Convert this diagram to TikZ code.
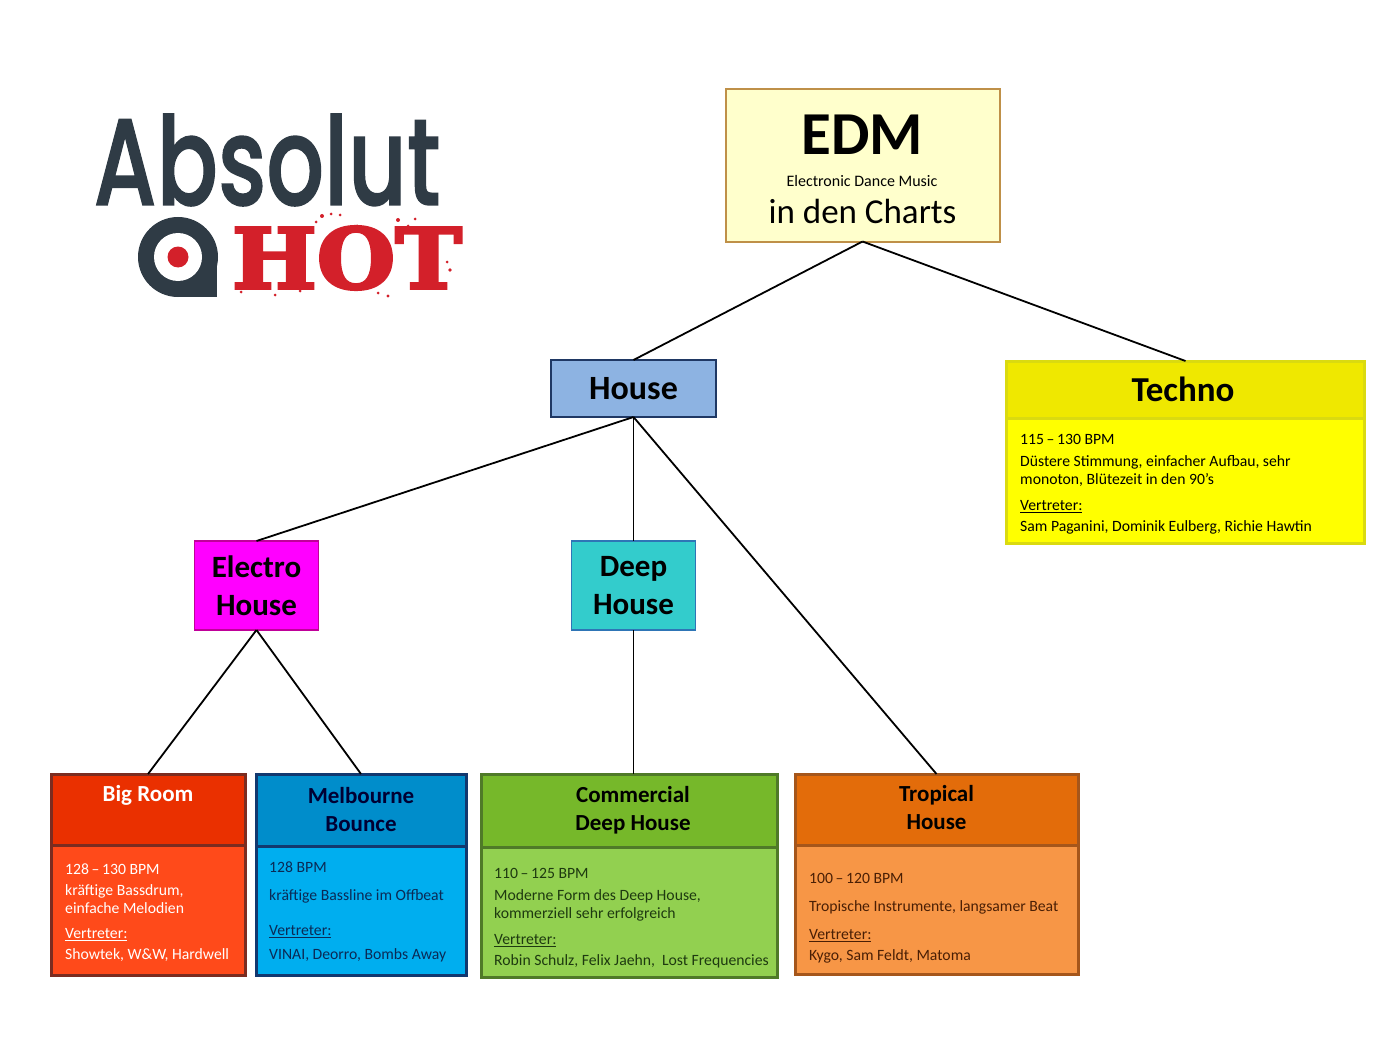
\documentclass[tikz,border=0pt]{standalone}
\usepackage{fontspec}
\setmainfont{Carlito}
\newfontfamily\logofont[FakeBold=1.2]{Poppins Medium}
\newfontfamily\hotfont[FakeBold=3.5]{DejaVu Serif}
\usetikzlibrary{positioning}
\definecolor{logodark}{HTML}{2F3B45}
\definecolor{logored}{HTML}{D3202A}
\newcommand{\vertreter}{\underline{Vertreter:}}
\tikzset{
head/.style={draw,rectangle,outer sep=0pt,inner sep=0pt,align=center,font=\fontsize{34}{37.5}\bfseries\selectfont,text=black},
sub/.style={head,line width=3pt,font=\fontsize{23}{28}\bfseries\selectfont},
info/.style={draw,rectangle,outer sep=0pt,inner sep=0pt,line width=3pt},
infotext/.style={anchor=north west,inner sep=0pt,align=left,font=\fontsize{15.7}{18}\selectfont},
link/.style={line width=1.8pt}
}

\begin{document}
\begin{tikzpicture}[x=1pt,y=-1pt]
	\useasboundingbox (0,0) rectangle (1400,1051);
	% logo
	\node[inner sep=0pt,text=logodark] (absolut) at (267,160) {\resizebox{347pt}{91pt}{\logofont Absolut}};
	\fill[logodark] (178,257) circle (40);
	\fill[logodark] (178,257) rectangle (217,297);
	\fill[white] (178,257) circle (24);
	\fill[logored] (178,257) circle (10.5);
	\node[inner sep=0pt,text=logored] (hot) at (347,258) {\resizebox{230pt}{62pt}{\hotfont\bfseries HOT}};
	\foreach \x/\y/\r in {322/216/2,331/214/1.5,340/215/1.5,316/222/1.5,398/220/2,408/226/1.5,415/219/1.5,450/270/1.8,447/262/1.5,378/293/1.5,300/291/1.5,275/295/1.5,241/292/1.5,357/226/1.5,388/296/1.6}
		\fill[logored] (\x,\y) circle (\r);
	% top
	\definecolor{edmline}{HTML}{BF9048}\definecolor{edmfill}{HTML}{FFFFCC}
	\node[draw=edmline,line width=2pt,fill=edmfill,outer sep=0pt,inner sep=0pt,minimum width=274pt,minimum height=152pt] (edm) at (862.5,165.5) {};
	\node[font=\fontsize{61}{61}\bfseries\selectfont] (edmtitle) at (862,135) {EDM};
	\node[font=\fontsize{16}{18}\selectfont] (edmsub) at (862,181) {Electronic Dance Music};
	\node[font=\fontsize{35}{35}\selectfont] (edmcharts) at (862.5,211) {in den Charts};
	\definecolor{housefill}{HTML}{8DB3E2}\definecolor{houseline}{HTML}{1F3864}
	\node[head,line width=1.8pt,draw=houseline,fill=housefill,minimum width=165pt,minimum height=57pt] (house) at (633.5,388.5) {House};
	% techno
	\definecolor{technoline}{HTML}{DADA10}\definecolor{technohead}{HTML}{EFE800}\definecolor{technofill}{HTML}{FFFF00}
	\node[info,draw=technoline,fill=technofill,minimum width=358pt,minimum height=125pt] (technobody) at (1185.5,480.5) {};
	\node[head,line width=3pt,draw=technoline,fill=technohead,minimum width=358pt,minimum height=57pt,font=\fontsize{35}{37.5}\bfseries\selectfont] (techno) at (1185.5,389.5) {\hspace*{-5pt}Techno};
	\node[infotext] (technotext) at (1020,434.5) {115\,--\,130 BPM\\[4pt]D\"ustere Stimmung, einfacher Aufbau, sehr\\monoton, Bl\"utezeit in den 90's\\[8pt]\vertreter\\[3pt]Sam Paganini, Dominik Eulberg, Richie Hawtin};
	% middle
	\definecolor{electrofill}{HTML}{FF00FF}\definecolor{electroline}{HTML}{C0009A}
	\node[head,line width=1.8pt,draw=electroline,fill=electrofill,minimum width=124pt,minimum height=89pt,font=\fontsize{31}{37.5}\bfseries\selectfont] (electro) at (256.5,585.5) {Electro\\House};
	\definecolor{deepfill}{HTML}{33CCCC}\definecolor{deepline}{HTML}{2E75B6}
	\node[head,line width=1.8pt,draw=deepline,fill=deepfill,minimum width=124pt,minimum height=89pt,font=\fontsize{31}{37.5}\bfseries\selectfont] (deep) at (633.5,585.5) {Deep\\House};
	% bottom
	\definecolor{bigline}{HTML}{7B2C20}\definecolor{bighead}{HTML}{EA3000}\definecolor{bigfill}{HTML}{FF4A1A}
	\node[info,draw=bigline,fill=bigfill,minimum width=194pt,minimum height=130pt] (bigbody) at (148,910) {};
	\node[sub,draw=bigline,fill=bighead,text=white,minimum width=194pt,minimum height=71pt,text depth=5pt] (big) at (148,809.5) {Big Room\\\mbox{}};
	\node[infotext,text=white] (bigtext) at (65,864) {128\,--\,130 BPM\\[3pt]kr\"aftige Bassdrum,\\einfache Melodien\\[7pt]\vertreter\\[3pt]Showtek, W\&W, Hardwell};
	\definecolor{melline}{HTML}{12386F}\definecolor{melhead}{HTML}{008DCB}\definecolor{melfill}{HTML}{00AEEF}\definecolor{meltextc}{HTML}{0B2A55}
	\node[info,draw=melline,fill=melfill,minimum width=210pt,minimum height=129pt] (melbody) at (361,910.5) {};
	\node[sub,draw=melline,fill=melhead,text=black!80!blue,minimum width=210pt,minimum height=72pt] (mel) at (361,810) {Melbourne\\Bounce};
	\node[infotext,text=meltextc] (meltext) at (269,861.5) {128 BPM\\[10pt]kr\"aftige Bassline im Offbeat\\[17pt]\vertreter\\[6pt]VINAI, Deorro, Bombs Away};
	\definecolor{comline}{HTML}{4F7A28}\definecolor{comhead}{HTML}{76B82A}\definecolor{comfill}{HTML}{92D050}\definecolor{comtextc}{HTML}{1E3A10}
	\node[info,draw=comline,fill=comfill,minimum width=296pt,minimum height=130pt] (combody) at (629,912) {};
	\node[sub,draw=comline,fill=comhead,minimum width=296pt,minimum height=73pt] (com) at (629,810.5) {\hspace*{8pt}Commercial\\\hspace*{8pt}Deep House};
	\node[infotext,text=comtextc] (comtext) at (494,868.5) {110\,--\,125 BPM\\[4pt]Moderne Form des Deep House,\\kommerziell sehr erfolgreich\\[8pt]\vertreter\\[3pt]Robin Schulz, Felix Jaehn,~ Lost Frequencies};
	\definecolor{troline}{HTML}{A5561B}\definecolor{trohead}{HTML}{E36C0A}\definecolor{trofill}{HTML}{F79646}\definecolor{trotextc}{HTML}{4A1F05}
	\node[info,draw=troline,fill=trofill,minimum width=283pt,minimum height=129pt] (trobody) at (936.5,909.5) {};
	\node[sub,draw=troline,fill=trohead,minimum width=283pt,minimum height=71pt,text depth=5pt] (tro) at (936.5,809.5) {Tropical\\House};
	\node[infotext,text=trotextc] (trotext) at (809,873.5) {100\,--\,120 BPM\\[10pt]Tropische Instrumente, langsamer Beat\\[10pt]\vertreter\\[3pt]Kygo, Sam Feldt, Matoma};
	% lines
	\draw[link] (edm.south) -- (house.north);
	\draw[link] (edm.south) -- (techno.north);
	\draw[link] (house.south) -- (electro.north);
	\draw[link] (house.south) -- (deep.north);
	\draw[link] (house.south) -- (tro.north);
	\draw[link] (electro.south) -- (big.north);
	\draw[link] (electro.south) -- (mel.north);
	\draw[link] (deep.south) -- (deep.south |- com.north);
\end{tikzpicture}
\end{document}
